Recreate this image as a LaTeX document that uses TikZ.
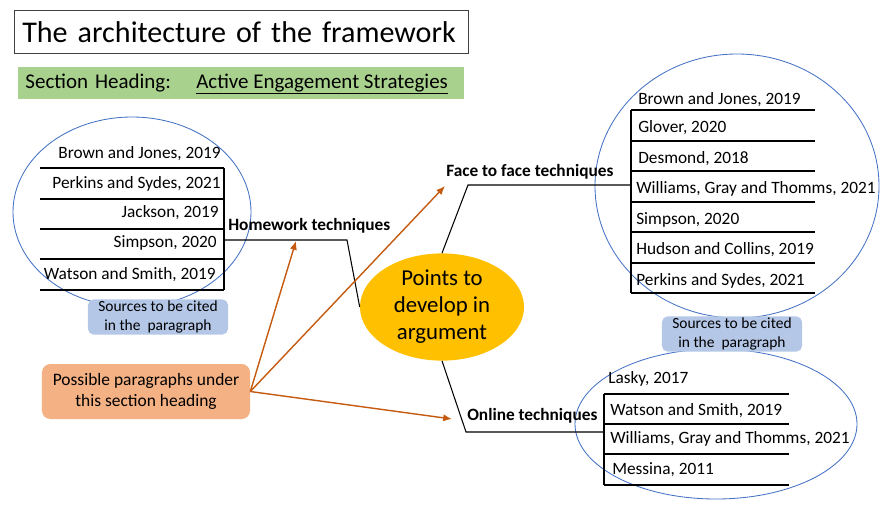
\documentclass[tikz,border=0pt]{standalone}
\usepackage{fontspec}
\setmainfont{Carlito}
\usetikzlibrary{arrows.meta,shapes.geometric}
\definecolor{headgreen}{HTML}{A9D18E}
\definecolor{ptsgold}{HTML}{FFC000}
\definecolor{srcblue}{HTML}{B4C7E7}
\definecolor{parapeach}{HTML}{F4B183}
\definecolor{rust}{HTML}{C55A11}
\definecolor{ringblue}{HTML}{4472C4}

\begin{document}
\begin{tikzpicture}[
  x=0.025cm,y=-0.025cm,
  cite/.style={inner sep=0pt,font=\fontsize{12.3}{14}\selectfont},
  branch/.style={inner sep=0pt,anchor=west,font=\fontsize{12.3}{14}\selectfont\bfseries},
  rule/.style={draw=black,line width=0.75pt},
  ring/.style={draw=ringblue,line width=0.6pt},
  src/.style={fill=srcblue,rounded corners=4pt,align=center,inner sep=0pt,
    minimum width=3.5cm,minimum height=0.88cm,font=\fontsize{11}{13}\selectfont},
  pointer/.style={-{Latex[length=2.2mm,width=1.8mm]},line width=1pt,draw=rust}
]
\useasboundingbox (0,0) rectangle (891,507);

% title and heading
\node[draw=black!75,anchor=north west,minimum width=11.35cm,minimum height=1.075cm,
  inner xsep=0.2cm,text width=10.95cm,align=left,font=\fontsize{21.4}{24}\selectfont]
  (title) at (14,10) {The architecture of the framework};
\node[fill=headgreen,anchor=north west,minimum width=11.15cm,minimum height=0.8cm,
  inner xsep=0.18cm,text width=10.79cm,align=left,font=\fontsize{14.9}{17}\selectfont]
  (heading) at (18,67) {Section Heading:};
\node[anchor=west,inner sep=0pt,font=\fontsize{14.9}{17}\selectfont]
  (strategy) at (196,84) {\underline{Active Engagement Strategies}};

% source rings
\draw[ring] (132,212) ellipse [x radius=119,y radius=95];
\draw[ring] (737,186) ellipse [x radius=142,y radius=132];
\draw[ring] (716,424) ellipse [x radius=141,y radius=75];

% left table
\foreach \y in {168,199,229,259,290} \draw[rule] (40,\y) -- (224,\y);
\draw[rule] (224,168) -- (224,290);
\node[cite,anchor=east] (l1) at (221,154) {Brown and Jones, 2019};
\node[cite,anchor=east] (l2) at (221,184) {Perkins and Sydes, 2021};
\node[cite,anchor=east] (l3) at (219,213) {Jackson, 2019};
\node[cite,anchor=east] (l4) at (217,243) {Simpson, 2020};
\node[cite,anchor=east] (l5) at (216,275) {Watson and Smith, 2019};

% right upper table
\foreach \y in {110,141,171,202,232,263,293} \draw[rule] (631,\y) -- (815,\y);
\draw[rule] (631,110) -- (631,293);
\node[cite,anchor=west] (r1) at (638,100) {Brown and Jones, 2019};
\node[cite,anchor=west] (r2) at (638,128) {Glover, 2020};
\node[cite,anchor=west] (r3) at (638,159) {Desmond, 2018};
\node[cite,anchor=west] (r4) at (636,189) {Williams, Gray and Thomms, 2021};
\node[cite,anchor=west] (r5) at (636,220) {Simpson, 2020};
\node[cite,anchor=west] (r6) at (636,250) {Hudson and Collins, 2019};
\node[cite,anchor=west] (r7) at (636,281) {Perkins and Sydes, 2021};

% right lower table
\foreach \y in {394,424,454,485} \draw[rule] (604,\y) -- (789,\y);
\draw[rule] (604,394) -- (604,485);
\node[cite,anchor=west] (o1) at (608,379) {Lasky, 2017};
\node[cite,anchor=west] (o2) at (610,411) {Watson and Smith, 2019};
\node[cite,anchor=west] (o3) at (610,439) {Williams, Gray and Thomms, 2021};
\node[cite,anchor=west] (o4) at (612,470) {Messina, 2011};

% sources boxes
\node[src] (srcleft) at (158,317) {Sources to be cited\\in the\ \ paragraph};
\node[src] (srcright) at (732,334) {Sources to be cited\\in the\ \ paragraph};

% centre and branches
\node[ellipse,fill=ptsgold,inner sep=0pt,minimum width=4.1cm,minimum height=2.68cm,
  align=center,font=\fontsize{16.2}{19.2}\selectfont] (pts) at (442,307)
  {Points to\\develop in\\argument};
\node[branch] (homework) at (228,226) {Homework techniques};
\node[branch] (facetoface) at (446,172) {Face to face techniques};
\node[branch] (online) at (467,416) {Online techniques};

\coordinate (hwbend) at (347,240);
\coordinate (ffbend) at (468,185);
\coordinate (olbend) at (466,432);
\draw[rule] (pts.west) -- (hwbend) -- (224,240);
\draw[rule] (pts.north) -- (ffbend) -- (631,185);
\draw[rule] (pts.south) -- (olbend) -- (604,432);

% paragraphs box and pointers
\node[fill=parapeach,rounded corners=6pt,align=center,minimum width=5.2cm,
  minimum height=1.375cm,font=\fontsize{12.4}{15}\selectfont] (para) at (146,391.5)
  {Possible paragraphs under\\this section heading};
\coordinate (hwtip) at (296,241);
\coordinate (fftip) at (445,186);
\coordinate (oltip) at (452,419);
\draw[pointer] (para.east) -- (hwtip);
\draw[pointer] (para.east) -- (fftip);
\draw[pointer] (para.east) -- (oltip);
\end{tikzpicture}
\end{document}
